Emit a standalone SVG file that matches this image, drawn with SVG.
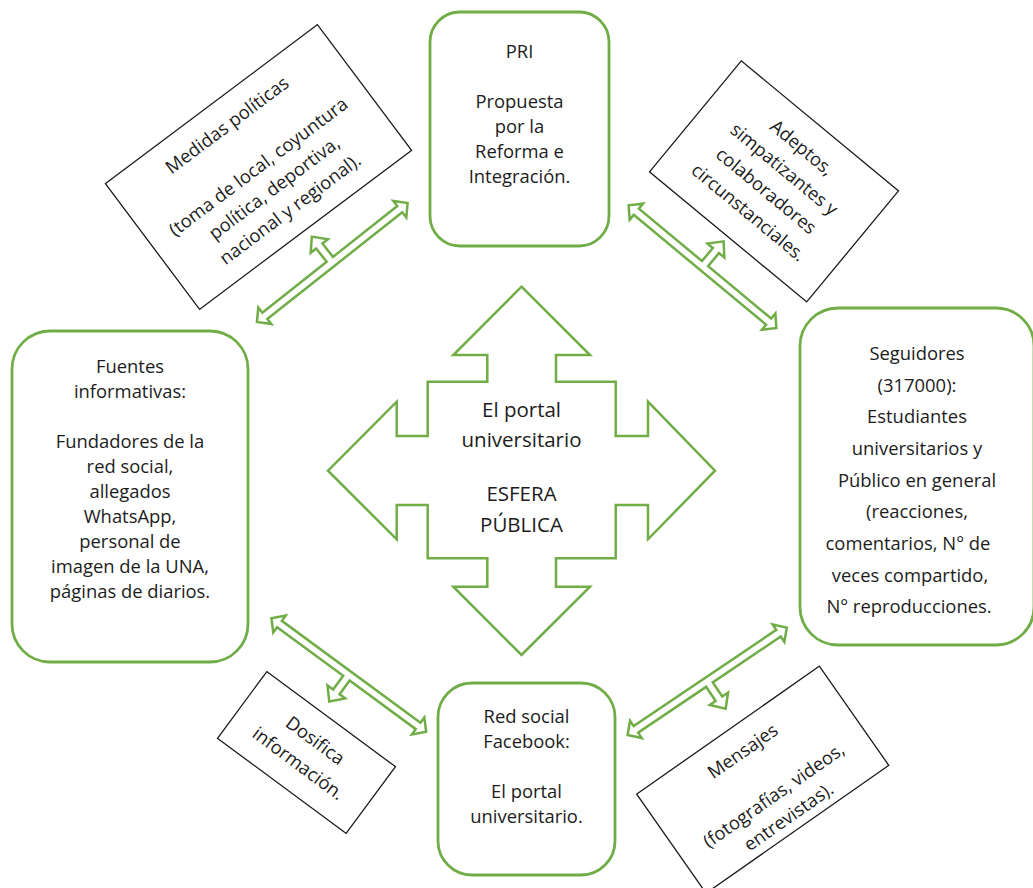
<svg xmlns="http://www.w3.org/2000/svg" width="1033" height="888" viewBox="0 0 1033 888">
<style>
.gbox{fill:#fff;stroke:#70AD47;stroke-width:2.8}
.kbox{fill:#fff;stroke:#1a1a1a;stroke-width:1.3}
.arr{fill:#fff;stroke:#70AD47;stroke-width:2.5;stroke-linejoin:miter}
text{font-family:"Open Sans","Noto Sans",sans-serif;font-size:18.4px;fill:#1c1c1c;text-anchor:middle}
.big{font-size:20.5px}
</style>
<defs>
<path id="dbl" class="arr" d="M96 0 L86 10.5 L86 4 L-86 4 L-86 10.5 L-96 0 L-86 -10.5 L-86 -4 L-4 -4 L-4 -21 L-11 -21 L0 -33 L11 -21 L4 -21 L4 -4 L86 -4 L86 -10.5 Z"/>
</defs>
<rect width="1033" height="888" fill="#fff"/>

<g id="center">
<path class="arr" d="M521.5 286.7 L590 355 L556 355 L556 381.7 L615.7 381.7 L615.7 436 L648 436 L648 401.7 L715 470.7 L648 539.3 L648 505 L615.7 505 L615.7 558.3 L556 558.3 L556 586.7 L590 586.7 L521.5 655 L453.3 586.7 L487.3 586.7 L487.3 558.3 L427.7 558.3 L427.7 505 L396.7 505 L396.7 539.3 L328 470.7 L396.7 401.7 L396.7 436 L427.7 436 L427.7 381.7 L487.3 381.7 L487.3 355 L453.3 355 Z"/>
<text class="big" x="521.5" y="416.7">El portal</text>
<text class="big" x="521.5" y="446.7">universitario</text>
<text class="big" x="521.5" y="501">ESFERA</text>
<text class="big" x="521.5" y="532.3">PÚBLICA</text>
</g>

<g id="pri">
<rect class="gbox" x="430" y="12" width="179" height="234" rx="30"/>
<text x="519.5" y="58">PRI</text>
<text x="519.5" y="108">Propuesta</text>
<text x="519.5" y="133">por la</text>
<text x="519.5" y="158">Reforma e</text>
<text x="519.5" y="183">Integración.</text>
</g>

<g id="fuentes">
<rect class="gbox" x="12" y="331" width="236" height="331" rx="38"/>
<text x="130" y="373">Fuentes</text>
<text x="130" y="398">informativas:</text>
<text x="130" y="448">Fundadores de la</text>
<text x="130" y="473">red social,</text>
<text x="130" y="498">allegados</text>
<text x="130" y="523">WhatsApp,</text>
<text x="130" y="548">personal de</text>
<text x="130" y="573">imagen de la UNA,</text>
<text x="130" y="598">páginas de diarios.</text>
</g>

<g id="seguidores">
<rect class="gbox" x="800" y="308" width="234" height="337" rx="38"/>
<text x="917" y="360">Seguidores</text>
<text x="917" y="391.5">(317000):</text>
<text x="917" y="423">Estudiantes</text>
<text x="917" y="454.5">universitarios y</text>
<text x="917" y="486.5">Público en general</text>
<text x="917" y="518">(reacciones,</text>
<text x="908" y="550">comentarios, N° de</text>
<text x="910" y="581.5">veces compartido,</text>
<text x="909" y="613">N° reproducciones.</text>
</g>

<g id="redsocial">
<rect class="gbox" x="438" y="683" width="177" height="192" rx="34"/>
<text x="526.5" y="723">Red social</text>
<text x="526.5" y="748">Facebook:</text>
<text x="526.5" y="798">El portal</text>
<text x="526.5" y="823">universitario.</text>
</g>

<g id="medidas" transform="translate(258.5 167) rotate(-36.87)">
<rect class="kbox" x="-132.5" y="-78.5" width="265" height="157"/>
<text x="0" y="-46">Medidas políticas</text>
<text x="0" y="6">(toma de local, coyuntura</text>
<text x="0" y="32.5">política, deportiva,</text>
<text x="0" y="59">nacional y regional).</text>
</g>

<g id="adeptos" transform="translate(774 181.4) rotate(39.6)">
<rect class="kbox" x="-102" y="-72" width="204" height="144"/>
<text x="0" y="-37.5">Adeptos,</text>
<text x="0" y="-9.5">simpatizantes y</text>
<text x="0" y="18.5">colaboradores</text>
<text x="0" y="46.5">circunstanciales.</text>
</g>

<g id="dosifica" transform="translate(306.5 752.5) rotate(36.5)">
<rect class="kbox" x="-80" y="-41.5" width="160" height="83"/>
<text x="0" y="-8.5">Dosifica</text>
<text x="0" y="20">información.</text>
</g>

<g id="mensajes" transform="translate(762.7 779.7) rotate(-35)">
<rect class="kbox" x="-111.5" y="-60.5" width="223" height="121"/>
<text x="0" y="-28.5">Mensajes</text>
<text x="0" y="25.5">(fotografías, videos,</text>
<text x="0" y="51.5">entrevistas).</text>
</g>

<g id="connectors">
<use href="#dbl" transform="translate(332.3 262.5) rotate(-38.3)"/>
<use href="#dbl" transform="translate(702.5 266.7) rotate(39.7)"/>
<use href="#dbl" transform="translate(348.8 675) rotate(216.3)"/>
<use href="#dbl" transform="translate(707.2 681.3) rotate(146)"/>
</g>
</svg>
